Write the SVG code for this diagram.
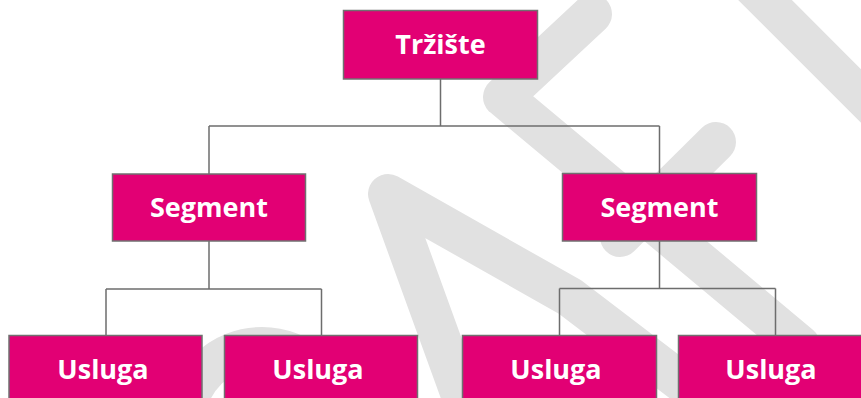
<svg xmlns="http://www.w3.org/2000/svg" width="861" height="398" viewBox="0 0 861 398">
  <style>
    .wm { fill: none; stroke: #e1e1e1; stroke-linecap: round; stroke-linejoin: round; }
    .box { fill: #e20074; stroke: #707070; stroke-width: 1.5; }
    .lbl { fill: #ffffff; font-family: "Open Sans", "Liberation Sans", Arial, sans-serif; font-weight: 700; font-size: 27px; text-anchor: middle; }
    .con { fill: none; stroke: #6d6d6d; stroke-width: 1.5; }
  </style>
  <rect x="0" y="0" width="861" height="398" fill="#ffffff"/>
  <g id="watermark">
    <path class="wm" stroke-width="40" d="M592 14 L503 97 L800 345"/>
    <path class="wm" stroke-width="40" d="M716 142 L620 237"/>
    <path class="wm" stroke-width="38" d="M740 -25 L900 135"/>
    <path class="wm" stroke-width="40" d="M470 420 L388 194 L570 297 L705 400"/>
    <circle class="wm" cx="262" cy="424" r="77" stroke-width="40"/>
  </g>
  <g id="connectors">
    <path class="con" d="M440.5 79 V126 M209 126 H659.5 M209 126 V174 M659.5 126 V173.5"/>
    <path class="con" d="M209 241 V289 M106 289 H321.5 M106 289 V335.5 M321.5 289 V335.5"/>
    <path class="con" d="M659.5 241 V288.5 M559.5 288.5 H775.5 M559.5 288.5 V335.5 M775.5 288.5 V335.5"/>
  </g>
  <g id="trziste">
    <rect class="box" x="343.5" y="10.5" width="194" height="68.5"/>
    <text class="lbl" x="440.5" y="53.5">Tržište</text>
  </g>
  <g id="segment-left">
    <rect class="box" x="112.5" y="174" width="193" height="67"/>
    <text class="lbl" x="209" y="217">Segment</text>
  </g>
  <g id="segment-right">
    <rect class="box" x="562.5" y="173.5" width="194" height="67.5"/>
    <text class="lbl" x="659.5" y="217">Segment</text>
  </g>
  <g id="usluga-1">
    <rect class="box" x="9" y="335.5" width="193" height="68"/>
    <text class="lbl" x="103" y="378.5">Usluga</text>
  </g>
  <g id="usluga-2">
    <rect class="box" x="224.5" y="335.5" width="193" height="68"/>
    <text class="lbl" x="318" y="378.5">Usluga</text>
  </g>
  <g id="usluga-3">
    <rect class="box" x="462.5" y="335.5" width="194" height="68"/>
    <text class="lbl" x="556" y="378.5">Usluga</text>
  </g>
  <g id="usluga-4">
    <rect class="box" x="678.5" y="335.5" width="194" height="68"/>
    <text class="lbl" x="771" y="378.5">Usluga</text>
  </g>
</svg>
